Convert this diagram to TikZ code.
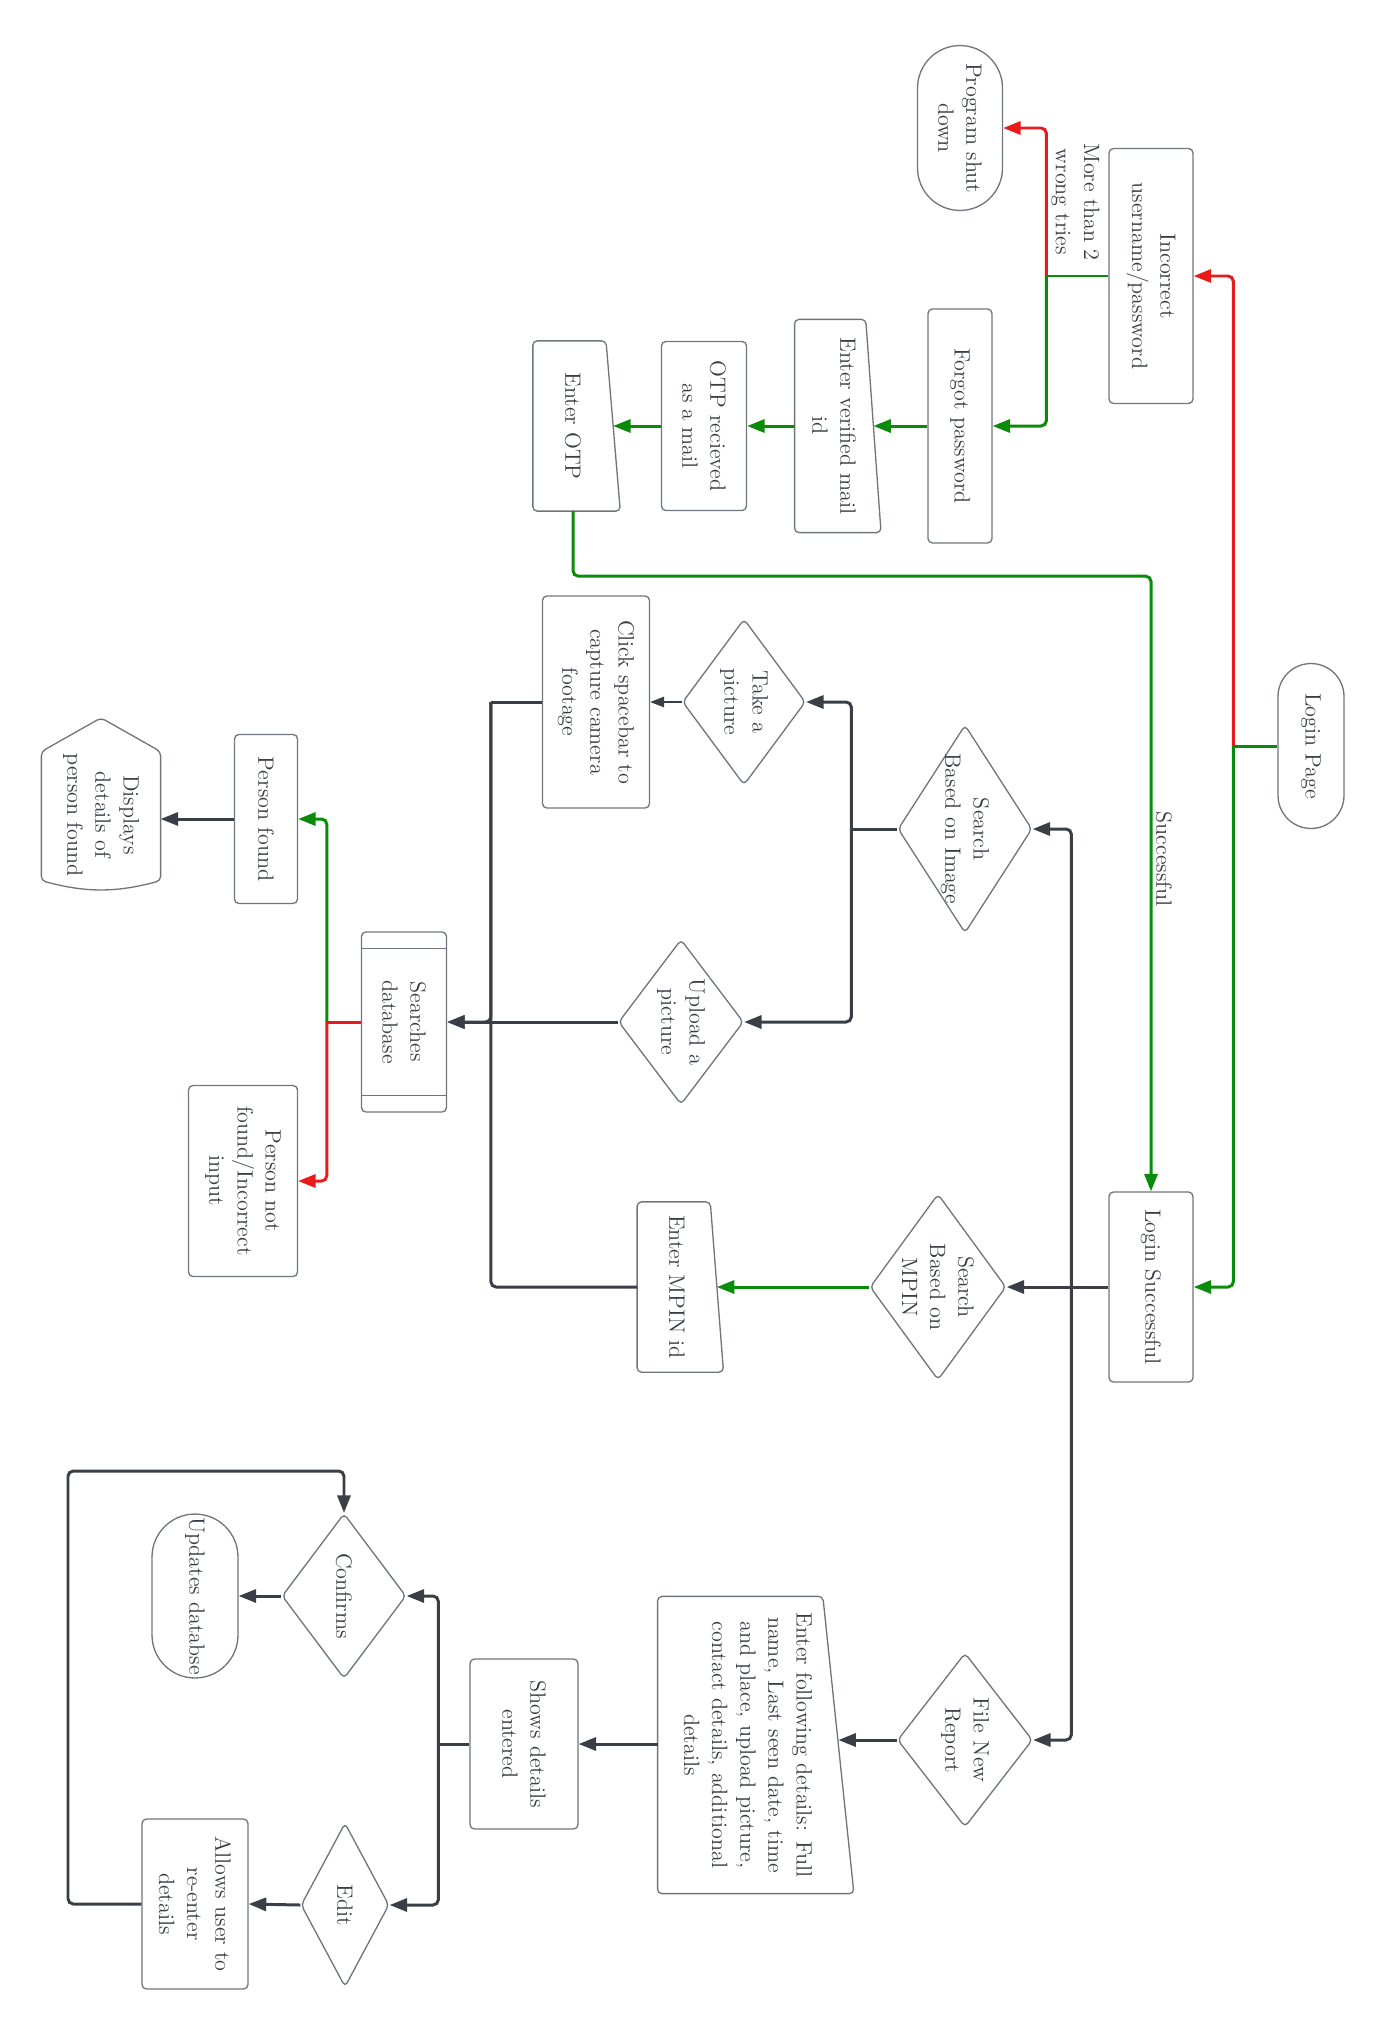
\documentclass[tikz,border=0pt]{standalone}
\usepackage{tikz}
\usetikzlibrary{positioning,calc}
\usetikzlibrary{arrows.meta}
\usetikzlibrary{shapes.geometric,shapes.misc}

\definecolor{linegray}{HTML}{3A3F47}
\definecolor{boxgray}{HTML}{70747C}
\definecolor{txtgray}{HTML}{383C44}
\definecolor{okgreen}{HTML}{0A8C0A}
\definecolor{badred}{HTML}{E81A1A}

% manual input outline: node name, slant
\newcommand{\manualin}[2]{\draw[outline] (#1.south west) -- (#1.south east) -- ($(#1.north east)!-#2!(#1.south east)$) -- ($(#1.north west)!#2!(#1.south west)$) -- cycle;}

\begin{document}
\begin{tikzpicture}[x=0.02cm,y=-0.02cm,
    box/.style={draw=boxgray,line width=0.75pt,rounded corners=2.5pt,rotate=-90,align=center,text=txtgray,inner sep=2pt,font=\fontsize{12.6}{16}\selectfont},
    proc/.style={box,rectangle},
    term/.style={box,rounded rectangle,sharp corners},
    dec/.style={box,diamond,aspect=1.5,inner sep=-4pt},
    inbox/.style={box,rectangle,draw=none},
    outline/.style={draw=boxgray,line width=0.75pt,rounded corners=2.5pt},
    lbl/.style={rotate=-90,align=center,text=txtgray,inner sep=2pt,font=\fontsize{12.6}{16}\selectfont},
    conn/.style={line width=1.7pt,rounded corners=3pt},
    tip/.style={-{Triangle[length=10pt,width=7.5pt]}},
    darkline/.style={conn,draw=linegray},
    okline/.style={conn,draw=okgreen},
    badline/.style={conn,draw=badred},
    thinline/.style={draw=linegray,line width=0.8pt,-{Triangle[length=8pt,width=6pt]}},
    ]
\useasboundingbox (0,0) rectangle (1386,2032);

% login part
\node[term,minimum width=3.44cm,minimum height=1.32cm] (login) at (1311,746) {Login Page};
\node[proc,minimum width=5.1cm,minimum height=1.68cm] (incorrect) at (1151,276) {Incorrect\\username/password};
\node[term,minimum width=3.44cm,minimum height=1.7cm] (shutdown) at (960,128) {Program shut\\down};
\node[proc,minimum width=4.68cm,minimum height=1.28cm] (forgot) at (960,426) {Forgot password};
\node[inbox,minimum width=4.24cm,minimum height=1.55cm] (mailid) at (834,426) {Enter verified mail\\id};
\manualin{mailid}{0.097}
\node[proc,minimum width=3.38cm,minimum height=1.7cm] (otprecv) at (704,426) {OTP recieved\\as a mail};
\node[inbox,minimum width=3.38cm,minimum height=1.58cm] (enterotp) at (573,426) {Enter OTP};
\manualin{enterotp}{0.089}
\node[proc,minimum width=3.8cm,minimum height=1.68cm] (loginok) at (1151,1287) {Login Successful};

% search part
\node[dec,minimum width=4.16cm,minimum height=2.68cm] (srchimg) at (965,829) {Search\\Based on Image};
\node[dec,minimum width=3.32cm,minimum height=2.46cm] (takepic) at (744,702) {Take a\\picture};
\node[proc,minimum width=4.24cm,minimum height=2.14cm] (capture) at (596,702) {Click spacebar to\\capture camera\\footage};
\node[dec,minimum width=3.3cm,minimum height=2.5cm] (upload) at (681,1022) {Upload a\\picture};
\node[proc,minimum width=3.6cm,minimum height=1.7cm] (srchdb) at (404,1022) {Searches\\database};
\draw[outline] ($(srchdb.north west)!0.094!(srchdb.north east)$) -- ($(srchdb.south west)!0.094!(srchdb.south east)$);
\draw[outline] ($(srchdb.north west)!0.906!(srchdb.north east)$) -- ($(srchdb.south west)!0.906!(srchdb.south east)$);
\node[proc,minimum width=3.38cm,minimum height=1.26cm] (found) at (266,819) {Person found};
\node[inbox,minimum width=2.4cm,minimum height=2.36cm] (display) at (101,815) {Displays\\details of\\person found};
\draw[outline] ($(display.west)!-0.24!(display.east)$) -- ($(display.north west)!0.017!(display.north east)$) -- (display.north east) to[bend left=15] (display.south east) -- ($(display.south west)!0.017!(display.south east)$) -- cycle;
\node[proc,minimum width=3.82cm,minimum height=2.18cm] (notfound) at (243,1181) {Person not\\found/Incorrect\\input};
\node[dec,minimum width=3.72cm,minimum height=2.72cm] (srchmpin) at (938,1287) {Search\\Based on\\MPIN};
\node[inbox,minimum width=3.38cm,minimum height=1.57cm] (mpin) at (677,1287) {Enter MPIN id};
\manualin{mpin}{0.083}

% report part
\node[dec,minimum width=3.48cm,minimum height=2.7cm] (newrep) at (965,1740) {File New\\Report};
\node[inbox,minimum width=5.92cm,minimum height=3.59cm] (details) at (748,1745) {Enter following details: Full\\name, Last seen date, time\\and place, upload picture,\\contact details, additional\\details};
\manualin{details}{0.086}
\node[proc,minimum width=3.4cm,minimum height=2.16cm] (shows) at (524,1744) {Shows details\\entered};
\node[dec,minimum width=3.3cm,minimum height=2.48cm] (confirms) at (344,1596) {Confirms};
\node[term,minimum width=3.42cm,minimum height=1.72cm] (updates) at (195,1596) {Updates databse};
\node[dec,minimum width=3.28cm,minimum height=1.76cm] (edit) at (345,1905) {Edit};
\node[proc,minimum width=3.4cm,minimum height=2.12cm] (reenter) at (195,1904) {Allows user to\\re-enter\\details};
\coordinate (loop) at (68,1471);

% connectors
\draw[okline] (login.south) -- ++(-44,0) coordinate (lp);
\draw[okline,tip] (lp) |- (loginok.north);
\draw[badline,tip] (lp) |- (incorrect.north);
\draw[okline] (incorrect.south) -- ++(-62,0) coordinate (ij);
\draw[okline,tip] (ij) |- (forgot.north);
\draw[badline,tip] (ij) |- node[lbl,pos=0.25,anchor=south] {More than 2\\wrong tries} (shutdown.north);
\draw[okline,tip] (forgot.south) -- (mailid.north);
\draw[okline,tip] (mailid.south) -- (otprecv.north);
\draw[okline,tip] (otprecv.south) -- (enterotp.north);
\draw[okline,tip] (enterotp.east) -- ++(0,65) -| node[lbl,pos=0.73,anchor=south] {Successful} (loginok.west);

\draw[darkline,tip] (loginok.south) -- (srchmpin.north);
\draw[darkline] (loginok.south) -- ++(-37,0) coordinate (tr);
\draw[darkline,tip] (tr) |- (srchimg.north);
\draw[darkline,tip] (tr) |- (newrep.north);

\draw[darkline] (srchimg.south) -- ++(-46,0) coordinate (sb);
\draw[darkline,tip] (sb) |- (takepic.north);
\draw[darkline,tip] (sb) |- (upload.north);
\draw[thinline] (takepic.south) -- (capture.north);
\draw[darkline] (capture.south) -- ++(-51,0) coordinate (cb);
\draw[darkline,tip] (cb) |- (srchdb.north);
\draw[darkline,tip] (upload.south) -- (srchdb.north);
\draw[okline,tip] (srchmpin.south) -- (mpin.north);
\draw[darkline] (mpin.south) -| (cb);

\draw[badline] (srchdb.south) -- ++(-34,0) coordinate (db);
\draw[okline,tip] (db) |- (found.north);
\draw[badline,tip] (db) |- (notfound.north);
\draw[darkline,tip] (found.south) -- (found.south -| display.north);

\draw[darkline,tip] (newrep.south) -- (newrep.south -| details.north);
\draw[darkline,tip] (details.south |- shows.north) -- (shows.north);
\draw[darkline] (shows.south) -- ++(-31,0) coordinate (sh);
\draw[darkline,tip] (sh) |- (confirms.north);
\draw[darkline,tip] (sh) |- (edit.north);
\draw[darkline,tip] (confirms.south) -- (updates.north);
\draw[darkline,tip] (edit.south) -- (reenter.north);
\draw[darkline,tip] (reenter.south) -| (loop) -| (confirms.west);
\end{tikzpicture}
\end{document}
